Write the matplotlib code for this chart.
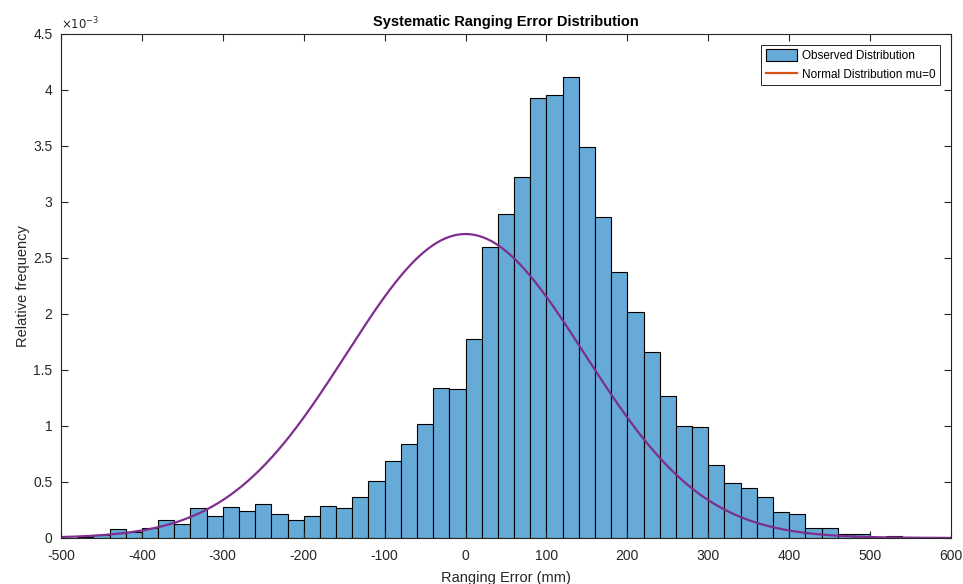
import numpy as np
import matplotlib.pyplot as plt
from matplotlib.lines import Line2D
from matplotlib.patches import Patch
from matplotlib.ticker import FuncFormatter

plt.rcParams['font.family'] = ['Liberation Sans', 'DejaVu Sans']
plt.rcParams['axes.unicode_minus'] = False

# Histogram (bin left edges in mm, bin width 20 mm), relative frequency
BIN_WIDTH = 20
bin_left = list(range(-480, 560, 20))
rel_freq = [0.008, 0.027, 0.082, 0.050, 0.090, 0.164, 0.124, 0.267, 0.200, 0.276,
            0.240, 0.306, 0.218, 0.164, 0.200, 0.288, 0.270, 0.364, 0.506, 0.688,
            0.839, 1.021, 1.342, 1.333, 1.774, 2.596, 2.890, 3.223, 3.926, 3.958,
            4.119, 3.488, 2.863, 2.375, 2.018, 1.661, 1.268, 1.000, 0.994, 0.652,
            0.488, 0.449, 0.363, 0.232, 0.211, 0.092, 0.092, 0.039, 0.039, 0.000,
            0.020, 0.010]
rel_freq = np.array(rel_freq) * 1e-3

# Normal distribution parameters
MU = 0
SIGMA = 147

ax_color = '#262626'

fig = plt.figure(figsize=(9.63, 5.84), dpi=100)
ax = fig.add_axes([0.0633, 0.0788, 0.9242, 0.863])

ax.bar(bin_left, rel_freq, width=BIN_WIDTH, align='edge',
       color='#66aad7', edgecolor='black', linewidth=0.8)

x = np.linspace(-500, 600, 600)
pdf = np.exp(-(x - MU) ** 2 / (2 * SIGMA ** 2)) / (SIGMA * np.sqrt(2 * np.pi))
ax.plot(x, pdf, color='#7e2f8e', linewidth=1.6)

ax.set_xlim(-500, 600)
ax.set_ylim(0, 4.5e-3)
ax.set_xticks(np.arange(-500, 601, 100))
ax.set_yticks(np.arange(0, 4.51e-3, 0.5e-3))
ax.yaxis.set_major_formatter(FuncFormatter(lambda v, p: f"{round(v * 1e3, 2):g}"))
ax.text(0.0, 1.004, r'$\times10^{-3}$', transform=ax.transAxes, fontsize=8.5,
        color=ax_color, ha='left', va='bottom')

ax.tick_params(direction='in', top=True, right=True, labelsize=10,
               colors=ax_color, length=5, width=0.8)
ax.tick_params(axis='x', pad=8)
ax.tick_params(axis='y', pad=6)
for s in ax.spines.values():
    s.set_color(ax_color)
    s.set_linewidth(0.8)

ax.set_title('Systematic Ranging Error Distribution', fontsize=10.5,
             fontweight='bold', pad=6)
ax.set_xlabel('Ranging Error (mm)', fontsize=10.5, color=ax_color, labelpad=6)
ax.set_ylabel('Relative frequency', fontsize=10.5, color=ax_color, labelpad=2)

handles = [Patch(facecolor='#66aad7', edgecolor='black', linewidth=0.8),
           Line2D([0], [0], color='#d95319', linewidth=1.6)]
leg = ax.legend(handles, ['Observed Distribution', 'Normal Distribution mu=0'],
                loc='upper right', fontsize=8.5, fancybox=False, framealpha=1,
                edgecolor=ax_color, borderaxespad=0.9, handlelength=2.6,
                handleheight=1.2, handletextpad=0.45, borderpad=0.4,
                labelspacing=0.45)
leg.get_frame().set_linewidth(0.7)

fig.savefig('out.png', dpi=100)
